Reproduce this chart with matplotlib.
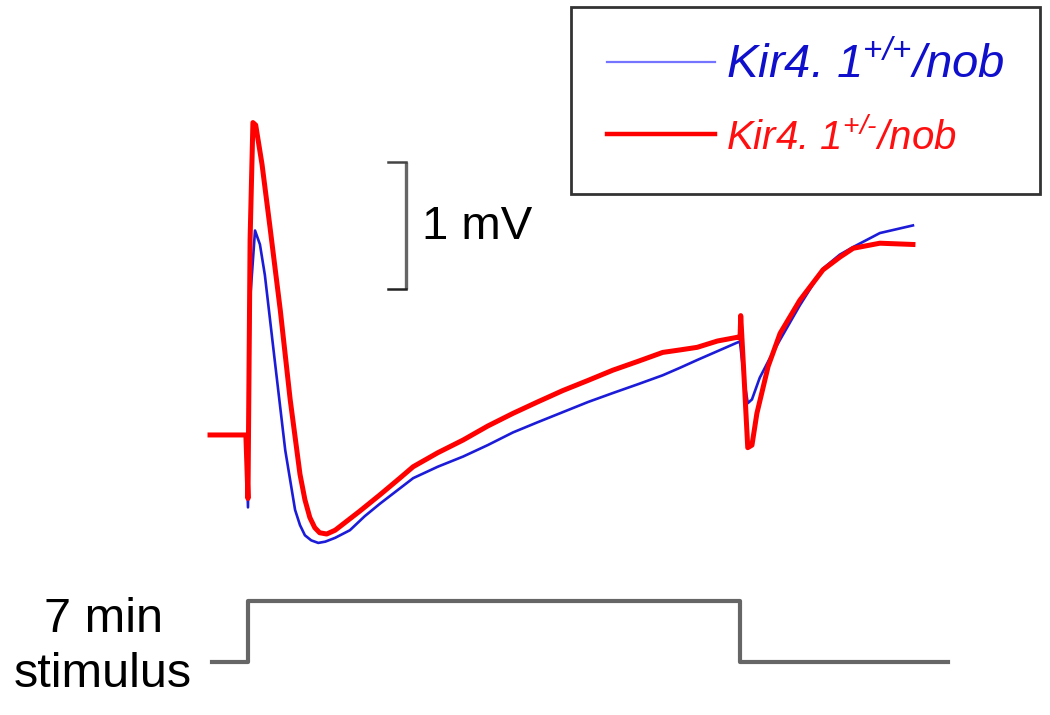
import matplotlib.pyplot as plt

plt.rcParams['font.family'] = ['Liberation Sans', 'DejaVu Sans']
plt.rcParams['mathtext.fontset'] = 'custom'
plt.rcParams['mathtext.rm'] = 'Liberation Sans:italic'
plt.rcParams['mathtext.it'] = 'Liberation Sans:italic'

# time in minutes (0 = stimulus onset), potential in mV
t_red = [-0.54, -0.03, 0.0, 0.03, 0.07, 0.11, 0.2, 0.31, 0.46, 0.6, 0.74, 0.81, 0.88, 0.95, 1.02,
         1.12, 1.24, 1.38, 1.59, 1.88, 2.16, 2.35, 2.7, 3.06, 3.41, 3.77, 4.12, 4.48, 4.84, 5.19,
         5.55, 5.9, 6.15, 6.39, 6.68, 6.97, 7.0, 7.01, 7.06, 7.11, 7.17, 7.24, 7.4, 7.57, 7.85,
         8.18, 8.42, 8.61, 8.99, 9.46]
v_red = [0.0, 0.0, -0.5, 1.54, 2.46, 2.44, 2.13, 1.65, 0.98, 0.28, -0.31, -0.51, -0.65, -0.73, -0.77,
         -0.78, -0.75, -0.69, -0.6, -0.47, -0.34, -0.25, -0.14, -0.04, 0.07, 0.17, 0.26, 0.35, 0.43, 0.51,
         0.58, 0.65, 0.67, 0.69, 0.74, 0.77, 0.76, 0.94, 0.43, -0.1, -0.08, 0.17, 0.54, 0.8, 1.06,
         1.3, 1.4, 1.47, 1.51, 1.5]

t_blue = [-0.54, -0.03, 0.0, 0.03, 0.1, 0.17, 0.24, 0.38, 0.53, 0.67, 0.74, 0.81, 0.9, 1.0, 1.1,
          1.24, 1.45, 1.66, 1.88, 2.35, 2.7, 3.06, 3.41, 3.77, 4.12, 4.48, 4.84, 5.19, 5.55, 5.9,
          6.15, 6.39, 6.68, 6.97, 7.0, 7.06, 7.11, 7.17, 7.28, 7.43, 7.57, 7.85, 8.18, 8.42, 8.61,
          8.99, 9.46]
v_blue = [0.0, 0.0, -0.57, 1.06, 1.61, 1.5, 1.26, 0.59, -0.12, -0.59, -0.71, -0.79, -0.83, -0.85, -0.84,
          -0.81, -0.75, -0.64, -0.54, -0.34, -0.25, -0.17, -0.08, 0.02, 0.1, 0.18, 0.26, 0.33, 0.4, 0.47,
          0.53, 0.59, 0.66, 0.73, 0.73, 0.43, 0.25, 0.28, 0.45, 0.61, 0.75, 1.02, 1.31, 1.42, 1.48,
          1.59, 1.65]

t_stim = [-0.51, 0.0, 0.0, 7.0, 7.0, 9.96]
stim = [0, 0, 1, 1, 0, 0]

label_wt = r'$\text{Kir4. 1}^{\text{+/+}}\text{/nob}$'
label_het = r'$\text{Kir4. 1}^{\text{+/-}}\text{/nob}$'

fig = plt.figure(figsize=(10.5, 7.15), dpi=100)
ax = fig.add_axes([0, 0, 1, 1])
ax.set_xlim(-3.528, 11.41)
ax.set_ylim(-2.205, 3.425)
ax.axis('off')

lb, = ax.plot(t_blue, v_blue, color='#1c1cd8', lw=1.9, zorder=2)
lr, = ax.plot(t_red, v_red, color='#ff0000', lw=3.6, zorder=3)

# scale bar 1 mV
ax.plot([2.248, 2.248], [1.15, 2.15], color='#666666', lw=2.4, solid_capstyle='butt')
ax.plot([1.99, 2.248], [2.15, 2.15], color='#444444', lw=1.8)
ax.plot([1.99, 2.248], [1.15, 1.15], color='#222222', lw=1.8)
ax.text(2.475, 1.64, '1 mV', fontsize=34, ha='left', va='center')

# stimulus trace
ax2 = fig.add_axes([0, 0, 1, 1], sharex=ax)
ax2.set_ylim(-0.869, 10.85)
ax2.axis('off')
ax2.patch.set_alpha(0)
ax2.step(t_stim, stim, where='post', color='#666666', lw=3)

fig.text(103 / 1050, 1 - 632 / 715, '7 min', fontsize=35, ha='center', va='baseline')
fig.text(103 / 1050, 1 - 687 / 715, 'stimulus', fontsize=35, ha='center', va='baseline')

lb_h, = ax.plot([], [], color='#7474ff', lw=1.6)
lr_h, = ax.plot([], [], color='#ff0000', lw=3.2)
leg = fig.legend([lb_h, lr_h], [label_wt, label_het], loc='upper right',
                 bbox_to_anchor=(1040 / 1050, 1 - 7 / 715), fontsize=34, frameon=True,
                 fancybox=False, edgecolor='black', handlelength=2.3, handletextpad=0.23,
                 borderpad=0.75, labelspacing=0.62, borderaxespad=0)
leg.get_frame().set_linewidth(2)
leg.get_texts()[0].set_color('#1010cc')
leg.get_texts()[1].set_color('#ff1010')
leg.get_texts()[1].set_fontsize(29)

fig.savefig('out.png', dpi=100)
